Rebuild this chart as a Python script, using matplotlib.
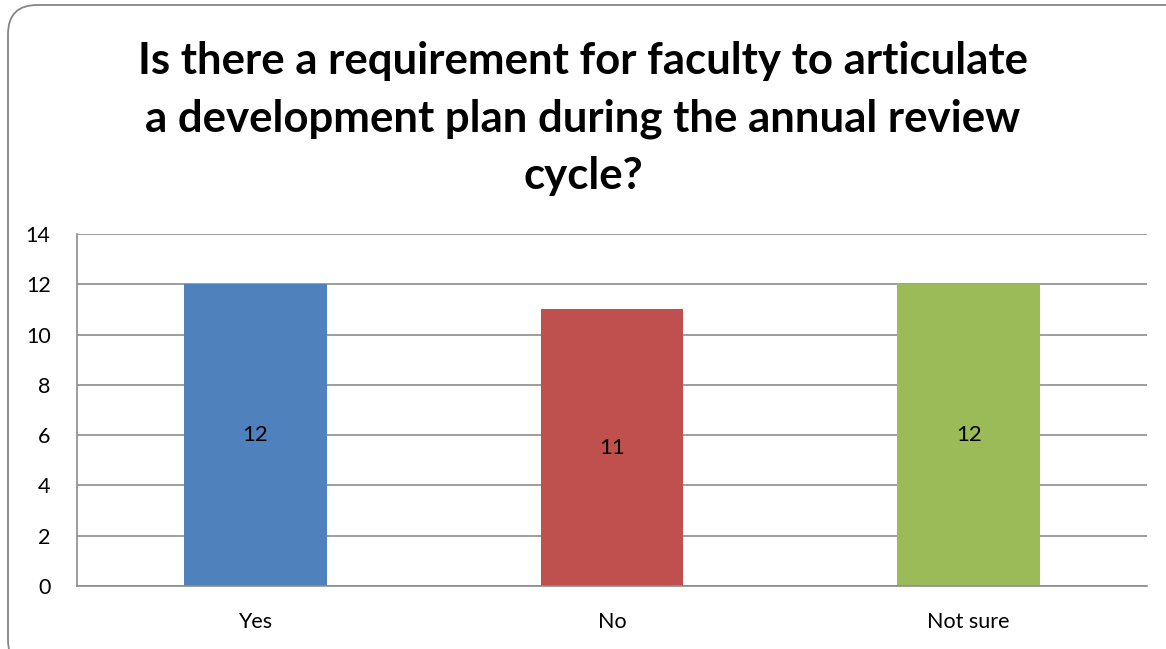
import matplotlib.pyplot as plt
from matplotlib.patches import FancyBboxPatch

categories = ["Yes", "No", "Not sure"]
counts = [12, 11, 12]
colors = ["#4f81bd", "#c0504d", "#9bbb59"]

title = ("Is there a requirement for faculty to articulate\n"
         "a development plan during the annual review\ncycle?")

plt.rcParams['font.family'] = ['Lato', 'DejaVu Sans']

fig = plt.figure(figsize=(11.66, 6.49), dpi=100)
W, H = 1166, 649

# rounded chart border
border = FancyBboxPatch((8 / W, -20 / H), 1200 / W, 664 / H,
                        boxstyle="round,pad=0,rounding_size=0.025",
                        transform=fig.transFigure, fill=False,
                        edgecolor="#868686", linewidth=1.3,
                        mutation_aspect=W / H)
fig.patches.append(border)

ax = fig.add_axes([77 / W, (H - 586) / H, (1147 - 77) / W, (586 - 234) / H])
x = range(len(categories))
bars = ax.bar(x, counts, width=0.4, color=colors, zorder=2)
for b, v in zip(bars, counts):
    ax.text(b.get_x() + b.get_width() / 2, v / 2, str(v),
            ha="center", va="center", fontsize=16, zorder=3)

ax.set_xlim(-0.5, 2.5)
ax.set_ylim(0, 14)
ax.set_yticks(range(0, 15, 2))
ax.set_xticks(list(x))
ax.set_xticklabels(categories)
ax.tick_params(length=0, labelsize=15.5, pad=19)
ax.tick_params(axis="y", pad=19)
ax.grid(axis="y", color="#8c8c8c", linewidth=1.2, zorder=0)
for s in ["top", "right"]:
    ax.spines[s].set_visible(False)
for s in ["left", "bottom"]:
    ax.spines[s].set_color("#8c8c8c")
    ax.spines[s].set_linewidth(1.2)

fig.text(0.5, 0.937, title, ha="center", va="top", fontsize=31.5,
         fontweight="bold", linespacing=1.52)

fig.savefig("out.png", dpi=100)
